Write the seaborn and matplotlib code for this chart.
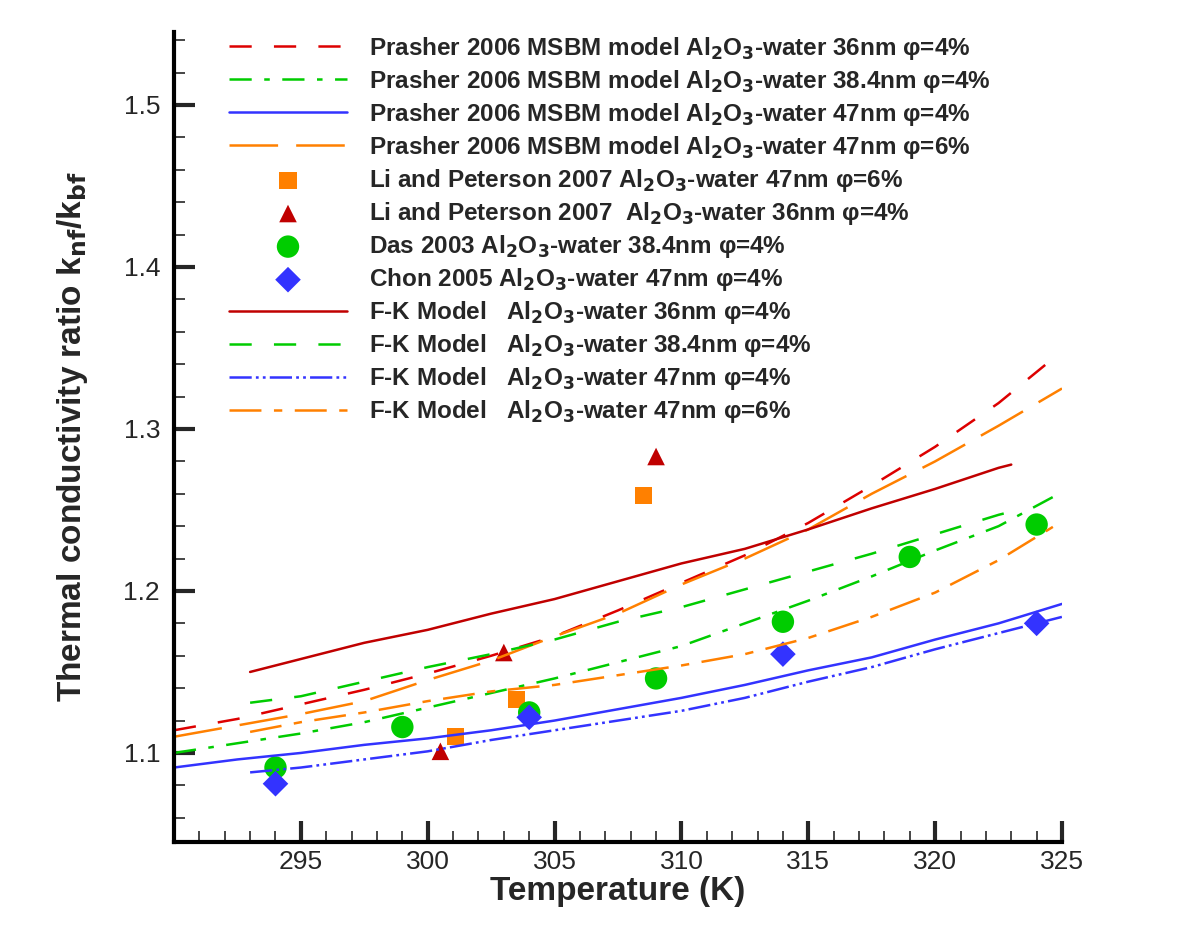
import numpy as np
import pandas as pd
import matplotlib
matplotlib.use("Agg")
import matplotlib.pyplot as plt
import seaborn as sns
from matplotlib.ticker import MultipleLocator, FixedLocator

# model curves
T_pr = [290, 292.5, 295, 297.5, 300, 302.5, 305, 307.5, 310, 312.5, 315, 317.5, 320, 322.5, 325]
pr_36_4 = [1.114, 1.121, 1.130, 1.139, 1.149, 1.160, 1.172, 1.188, 1.205, 1.222, 1.242, 1.265, 1.289, 1.316, 1.348]
pr_384_4 = [1.100, 1.106, 1.112, 1.119, 1.128, 1.137, 1.146, 1.156, 1.166, 1.180, 1.194, 1.209, 1.225, 1.240, 1.261]
pr_47_4 = [1.091, 1.096, 1.100, 1.105, 1.109, 1.114, 1.120, 1.127, 1.134, 1.142, 1.151, 1.159, 1.170, 1.180, 1.192]
pr_47_6 = [1.110, 1.117, 1.124, 1.132, 1.145, 1.157, 1.172, 1.186, 1.204, 1.220, 1.238, 1.260, 1.280, 1.302, 1.325]

T_fk = [293, 295, 297.5, 300, 302.5, 305, 307.5, 310, 312.5, 315, 317.5, 320, 322.5, 323]
fk_36_4 = [1.150, 1.158, 1.168, 1.176, 1.186, 1.195, 1.206, 1.217, 1.226, 1.238, 1.251, 1.263, 1.276, 1.278]
fk_384_4 = [1.131, 1.135, 1.144, 1.153, 1.161, 1.170, 1.181, 1.190, 1.201, 1.212, 1.223, 1.235, 1.247, 1.249]
T_fk2 = [293, 295, 297.5, 300, 302.5, 305, 307.5, 310, 312.5, 315, 317.5, 320, 322.5, 325]
fk_47_4 = [1.088, 1.091, 1.096, 1.101, 1.108, 1.114, 1.120, 1.126, 1.134, 1.144, 1.153, 1.164, 1.174, 1.184]
fk_47_6 = [1.113, 1.119, 1.125, 1.132, 1.138, 1.142, 1.148, 1.154, 1.161, 1.171, 1.184, 1.199, 1.219, 1.243]

# experimental points
T_li6 = [301.1, 303.5, 308.5]
k_li6 = [1.110, 1.133, 1.259]
T_li4 = [300.5, 303.0, 309.0]
k_li4 = [1.101, 1.162, 1.283]
T_das = [294, 299, 304, 309, 314, 319, 324]
k_das = [1.091, 1.116, 1.125, 1.146, 1.181, 1.221, 1.241]
T_chon = [294, 304, 314, 324]
k_chon = [1.081, 1.122, 1.161, 1.180]

x_ticks = [295, 300, 305, 310, 315, 320, 325]
y_ticks = [1.1, 1.2, 1.3, 1.4, 1.5]

sns.set_style("white")
plt.rcParams['font.family'] = ['Liberation Sans', 'DejaVu Sans']
plt.rcParams['mathtext.default'] = 'bf'
plt.rcParams['lines.scale_dashes'] = False

RED = "#DD0000"
DRED = "#C00000"
GREEN = "#00CC00"
BLUE = "#3333FF"
ORANGE = "#FF8000"

al = "Al$_2$O$_3$-water"

fig = plt.figure(figsize=(12, 9.44), dpi=100)
ax = fig.add_axes([0.145, 0.108, 0.74, 0.858])

lw = 1.8
sns.lineplot(x=T_pr, y=pr_36_4, color=RED, lw=lw, linestyle=(0, (16, 16)), ax=ax,
             label=f"Prasher 2006 MSBM model {al} 36nm φ=4%")
sns.lineplot(x=T_pr, y=pr_384_4, color=GREEN, lw=lw, linestyle=(0, (16, 9, 4, 9)), ax=ax,
             label=f"Prasher 2006 MSBM model {al} 38.4nm φ=4%")
sns.lineplot(x=T_pr, y=pr_47_4, color=BLUE, lw=lw, linestyle="-", ax=ax,
             label=f"Prasher 2006 MSBM model {al} 47nm φ=4%")
sns.lineplot(x=T_pr, y=pr_47_6, color=ORANGE, lw=lw, linestyle=(0, (35, 13)), ax=ax,
             label=f"Prasher 2006 MSBM model {al} 47nm φ=6%")

sns.scatterplot(x=T_li6, y=k_li6, marker="s", s=150, color=ORANGE, edgecolor="none", ax=ax,
                label=f"Li and Peterson 2007 {al} 47nm φ=6%")
sns.scatterplot(x=T_li4, y=k_li4, marker="^", s=160, color=DRED, edgecolor="none", ax=ax,
                label=f"Li and Peterson 2007  {al} 36nm φ=4%")
sns.scatterplot(x=T_das, y=k_das, marker="o", s=260, color=GREEN, edgecolor="none", ax=ax,
                label=f"Das 2003 {al} 38.4nm φ=4%")
sns.scatterplot(x=T_chon, y=k_chon, marker="D", s=170, color=BLUE, edgecolor="none", ax=ax,
                label=f"Chon 2005 {al} 47nm φ=4%")

sns.lineplot(x=T_fk, y=fk_36_4, color=DRED, lw=lw, linestyle="-", ax=ax,
             label=f"F-K Model   {al} 36nm φ=4%")
sns.lineplot(x=T_fk, y=fk_384_4, color=GREEN, lw=lw, linestyle=(0, (16, 16)), ax=ax,
             label=f"F-K Model   {al} 38.4nm φ=4%")
sns.lineplot(x=T_fk2, y=fk_47_4, color=BLUE, lw=lw, linestyle=(0, (16, 3, 2, 3, 2, 3)), ax=ax,
             label=f"F-K Model   {al} 47nm φ=4%")
sns.lineplot(x=T_fk2, y=fk_47_6, color=ORANGE, lw=lw, linestyle=(0, (23, 9, 6, 9)), ax=ax,
             label=f"F-K Model   {al} 47nm φ=6%")

ax.set_xlim(290, 325)
ax.set_ylim(1.045, 1.545)
ax.xaxis.set_major_locator(FixedLocator(x_ticks))
ax.xaxis.set_minor_locator(MultipleLocator(1))
ax.yaxis.set_major_locator(FixedLocator(y_ticks))
ax.yaxis.set_minor_locator(MultipleLocator(0.02))
ax.yaxis.set_major_formatter(matplotlib.ticker.FormatStrFormatter("%.1f"))

ax.tick_params(which="major", direction="in", length=15, width=3, labelsize=19,
               bottom=True, left=True)
ax.tick_params(axis="y", which="major", pad=10)
ax.tick_params(axis="x", which="major", pad=6)
ax.tick_params(which="minor", direction="in", length=8, width=1.2, bottom=True, left=True)
for s in ["top", "right"]:
    ax.spines[s].set_visible(False)
for s in ["left", "bottom"]:
    ax.spines[s].set_linewidth(3)
    ax.spines[s].set_color("black")

ax.set_xlabel("Temperature (K)", fontsize=24, fontweight="bold", labelpad=1)
ax.set_ylabel("Thermal conductivity ratio k$_{nf}$/k$_{bf}$", fontsize=24, fontweight="bold", labelpad=24)

leg = ax.legend(loc="upper left", bbox_to_anchor=(0.062, 0.997), frameon=False, borderpad=0,
                borderaxespad=0, handlelength=4.85, handletextpad=0.9, labelspacing=0.25,
                prop={"weight": "bold", "size": 17.5})

fig.savefig("out.png", dpi=100)
